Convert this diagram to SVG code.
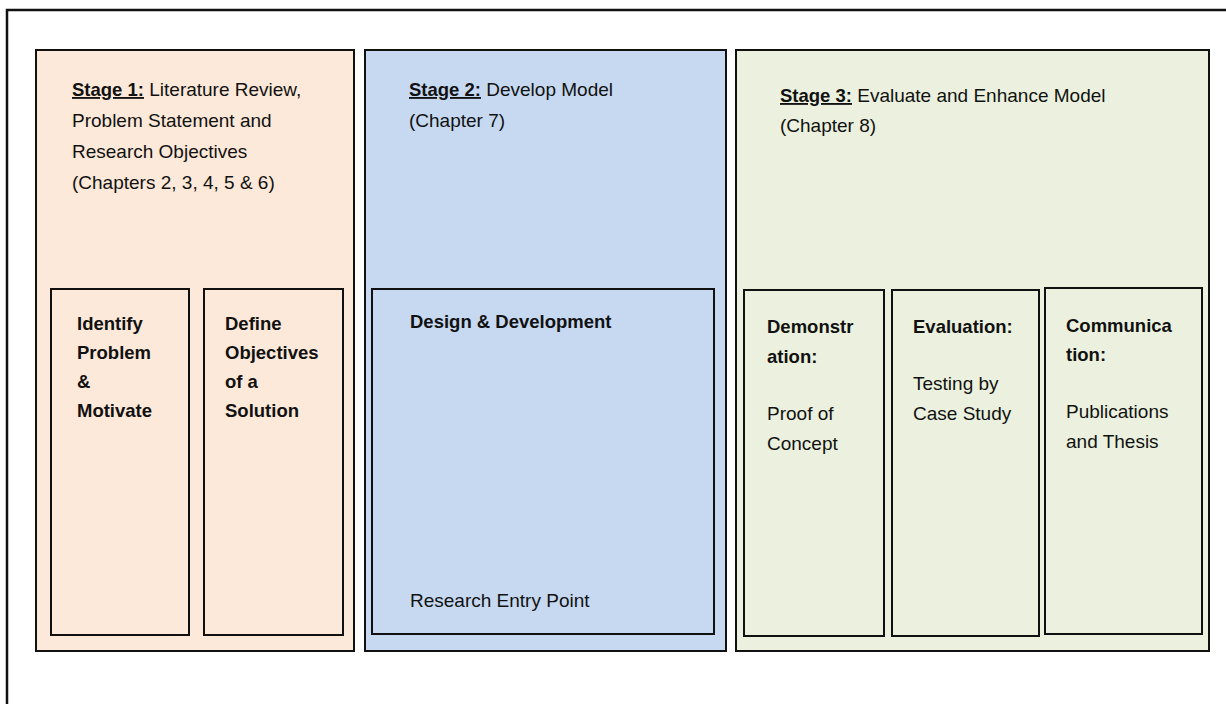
<svg xmlns="http://www.w3.org/2000/svg" width="1226" height="704" viewBox="0 0 1226 704">
<style>
.t{font-family:"Liberation Sans",Arial,sans-serif;font-size:19px;fill:#111}
.b{font-weight:bold;font-size:18.5px}
.u{text-decoration:underline}
.box{stroke:#111;stroke-width:2}
.s1{fill:#FDE9D9}.s2{fill:#C6D9F1}.s3{fill:#EBF1DE}
</style>
<rect width="1226" height="704" fill="#fff"/>
<path d="M7,704 V10 H1226" fill="none" stroke="#111" stroke-width="2.5"/>
<g id="stage1">
<rect class="box s1" x="36" y="50" width="318" height="601"/>
<text class="t" x="72" y="96"><tspan class="b u">Stage 1:</tspan> Literature Review,</text>
<text class="t" x="72" y="127">Problem Statement and</text>
<text class="t" x="72" y="158">Research Objectives</text>
<text class="t" x="72" y="189">(Chapters 2, 3, 4, 5 &amp; 6)</text>
</g>
<g id="identify">
<rect class="box s1" x="51" y="289" width="138" height="346"/>
<text class="t b" x="77" y="330">Identify</text>
<text class="t b" x="77" y="359">Problem</text>
<text class="t b" x="77" y="388">&amp;</text>
<text class="t b" x="77" y="417">Motivate</text>
</g>
<g id="define">
<rect class="box s1" x="204" y="289" width="139" height="346"/>
<text class="t b" x="225" y="330">Define</text>
<text class="t b" x="225" y="359">Objectives</text>
<text class="t b" x="225" y="388">of a</text>
<text class="t b" x="225" y="417">Solution</text>
</g>
<g id="stage2">
<rect class="box s2" x="365" y="50" width="361" height="601"/>
<text class="t" x="409" y="96"><tspan class="b u">Stage 2:</tspan> Develop Model</text>
<text class="t" x="409" y="127">(Chapter 7)</text>
</g>
<g id="design">
<rect class="box s2" x="372" y="289" width="342" height="345"/>
<text class="t b" x="410" y="328">Design &amp; Development</text>
<text class="t" x="410" y="607">Research Entry Point</text>
</g>
<g id="stage3">
<rect class="box s3" x="736" y="50" width="473" height="601"/>
<text class="t" x="780" y="102"><tspan class="b u">Stage 3:</tspan> Evaluate and Enhance Model</text>
<text class="t" x="780" y="132">(Chapter 8)</text>
</g>
<g id="demonstration">
<rect class="box s3" x="744" y="290" width="140" height="346"/>
<text class="t b" x="767" y="333">Demonstr</text>
<text class="t b" x="767" y="363">ation:</text>
<text class="t" x="767" y="420">Proof of</text>
<text class="t" x="767" y="450">Concept</text>
</g>
<g id="evaluation">
<rect class="box s3" x="892" y="290" width="147" height="346"/>
<text class="t b" x="913" y="333">Evaluation:</text>
<text class="t" x="913" y="390">Testing by</text>
<text class="t" x="913" y="420">Case Study</text>
</g>
<g id="communication">
<rect class="box s3" x="1045" y="288" width="157" height="346"/>
<text class="t b" x="1066" y="332">Communica</text>
<text class="t b" x="1066" y="361">tion:</text>
<text class="t" x="1066" y="418">Publications</text>
<text class="t" x="1066" y="448">and Thesis</text>
</g>
<g id="connectors"/>
</svg>
